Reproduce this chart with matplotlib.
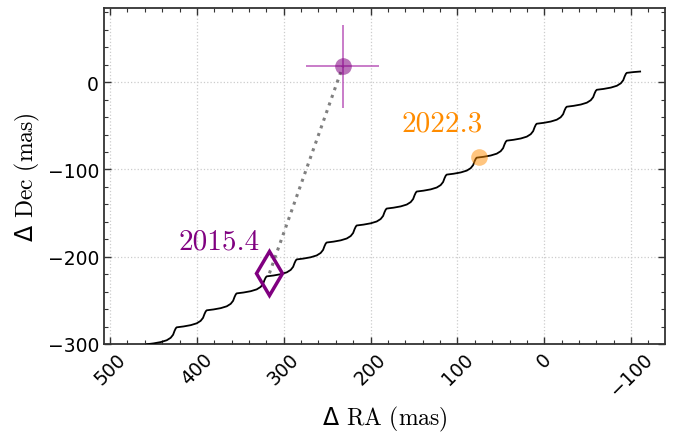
import numpy as np
from matplotlib import pyplot as plt
import matplotlib.ticker as mtick

# parallax + proper motion track (mas)
ra_track = [460.6, 459.2,
            457.8, 449.9, 441.6, 434.7, 430.2, 427.4, 425.7, 424.3,
            423.3, 415.4, 407.1, 400.2, 395.7, 392.9, 391.2, 389.8,
            388.7, 380.8, 372.5, 365.6, 361.1, 358.3, 356.6, 355.2,
            354.2, 346.3, 338.0, 331.1, 326.6, 323.8, 322.1, 320.7,
            319.6, 311.7, 303.4, 296.5, 292.0, 289.2, 287.5, 286.1,
            285.1, 277.2, 268.9, 262.0, 257.5, 254.7, 253.0, 251.6,
            250.5, 242.6, 234.3, 227.4, 222.9, 220.1, 218.4, 217.0,
            216.0, 208.1, 199.8, 192.9, 188.4, 185.6, 183.9, 182.5,
            181.4, 173.5, 165.2, 158.3, 153.8, 151.0, 149.3, 147.9,
            146.9, 139.0, 130.7, 123.8, 119.3, 116.5, 114.8, 113.4,
            112.3, 104.4, 96.1, 89.2, 84.7, 81.9, 80.2, 78.8,
            77.8, 69.9, 61.6, 54.7, 50.2, 47.4, 45.7, 44.3,
            43.2, 35.3, 27.0, 20.1, 15.6, 12.8, 11.1, 9.7,
            8.7, 0.8, -7.5, -14.4, -18.9, -21.7, -23.4, -24.8,
            -25.9, -33.8, -42.1, -49.0, -53.5, -56.3, -58.0, -59.4,
            -60.5, -68.4, -76.7, -83.6, -88.1, -90.9, -92.6, -94.0,
            -95.0, -103.0, -110.4]
dec_track = [-304.3, -301.4,
             -300.3, -299.3, -297.8, -295.7, -292.9, -289.4, -284.9, -282.0,
             -280.9, -279.9, -278.4, -276.3, -273.5, -270.0, -265.5, -262.6,
             -261.4, -260.4, -258.9, -256.8, -254.0, -250.5, -246.0, -243.1,
             -242.0, -241.0, -239.5, -237.4, -234.6, -231.1, -226.6, -223.7,
             -222.5, -221.5, -220.0, -217.9, -215.1, -211.6, -207.1, -204.2,
             -203.1, -202.1, -200.6, -198.5, -195.7, -192.2, -187.7, -184.8,
             -183.7, -182.7, -181.2, -179.1, -176.3, -172.8, -168.3, -165.4,
             -164.2, -163.2, -161.7, -159.6, -156.8, -153.3, -148.8, -145.9,
             -144.8, -143.8, -142.3, -140.2, -137.4, -133.9, -129.4, -126.5,
             -125.3, -124.3, -122.8, -120.7, -117.9, -114.4, -109.9, -107.0,
             -105.9, -104.9, -103.4, -101.3, -98.5, -95.0, -90.5, -87.6,
             -86.5, -85.5, -84.0, -81.9, -79.1, -75.6, -71.1, -68.2,
             -67.0, -66.0, -64.5, -62.4, -59.6, -56.1, -51.6, -48.7,
             -47.6, -46.6, -45.1, -43.0, -40.2, -36.7, -32.2, -29.3,
             -28.1, -27.1, -25.6, -23.5, -20.7, -17.2, -12.7, -9.8,
             -8.7, -7.7, -6.2, -4.1, -1.3, 2.2, 6.7, 9.6,
             10.7, 11.6, 12.2]

# epochs
epoch_labels = ["2015.4", "2022.3"]
ra_2015, dec_2015 = 316.5, -219.0
ra_2022, dec_2022 = 75.0, -86.0
ra_err_2022, dec_err_2022 = 42.0, 48.0
text_2015 = (375.0, -191.0)
text_2022 = (118.0, -55.0)

plt.figure(figsize=(6.76, 4.35), dpi=100)
ax = plt.axes([0.1538, 0.2069, 0.8299, 0.7724])

ax.plot(ra_track, dec_track, color="black", linewidth=1.3, zorder=3)

# line from the 2015.4 position to the measured 2022.3 offset
ax.plot([ra_2015, 232.0], [dec_2015, 18.0], color="gray", linestyle=":", linewidth=2.2, zorder=4)
ax.plot(ra_2015, dec_2015, marker="d", markersize=22, markerfacecolor="none",
        markeredgecolor="purple", markeredgewidth=2.5, zorder=5)
ax.errorbar(232.0, 18.0, xerr=ra_err_2022, yerr=dec_err_2022, fmt="none",
            ecolor="#b040b0", elinewidth=1.2, alpha=0.8, zorder=5)
ax.plot(232.0, 18.0, marker="o", markersize=12, color="purple", alpha=0.55,
        markeredgewidth=0, zorder=6)
ax.plot(ra_2022, dec_2022, marker="o", markersize=12, color="darkorange", alpha=0.5,
        markeredgewidth=0, zorder=6)

ax.text(text_2015[0], text_2015[1], epoch_labels[0], color="purple", fontsize=21,
        family="cmr10", ha="center", va="baseline")
ax.text(text_2022[0], text_2022[1], epoch_labels[1], color="darkorange", fontsize=21,
        family="cmr10", ha="center", va="baseline")

ax.set_xlim([507, -139])
ax.set_ylim([-300, 85])
ax.xaxis.set_major_locator(mtick.MultipleLocator(100))
ax.xaxis.set_minor_locator(mtick.MultipleLocator(20))
ax.yaxis.set_major_locator(mtick.MultipleLocator(100))
ax.yaxis.set_minor_locator(mtick.MultipleLocator(20))
ax.tick_params(which="both", direction="in", top=True, right=True, color="#333333")
ax.tick_params(which="major", length=5, width=1.0, labelsize=13.5)
ax.tick_params(which="minor", length=3, width=0.8)
plt.setp(ax.get_xticklabels(), rotation=45)
for s in ax.spines.values():
    s.set_linewidth(1.3)
    s.set_color("#333333")
ax.grid(True, linestyle=":", color="#cccccc", linewidth=0.9, zorder=0)
ax.set_axisbelow(True)

ax.set_xlabel(r"$\Delta$ RA (mas)", fontsize=17, family="cmr10")
ax.set_ylabel(r"$\Delta$ Dec (mas)", fontsize=17, family="cmr10")

plt.savefig("out.png")
